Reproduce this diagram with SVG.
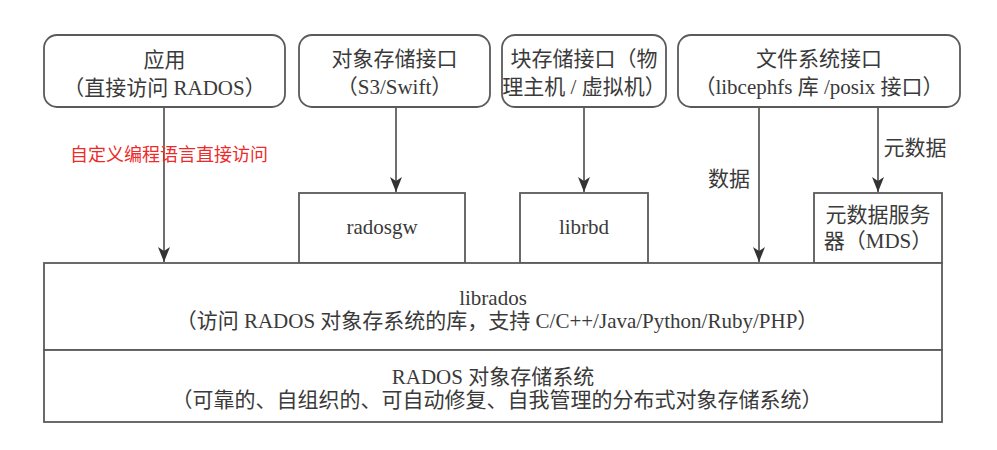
<svg xmlns="http://www.w3.org/2000/svg" width="997" height="450" viewBox="0 0 997 450">
<style>
.t{font-family:"Liberation Serif","Noto Sans CJK SC",serif;font-size:21px;fill:#3a3a3a;text-anchor:middle}
.box{fill:#ffffff;stroke:#5a5a5a;stroke-width:1.8}
.ln{stroke:#4a4a4a;stroke-width:1.6;fill:none}
.red{font-family:"Noto Sans CJK SC","Noto Sans",sans-serif;font-size:18px;fill:#ee2a2a}
</style>
<defs>
<marker id="ah" markerUnits="userSpaceOnUse" markerWidth="15" markerHeight="12" viewBox="0 0 15 12" refX="15" refY="6" orient="auto">
<path d="M0,0 L15,6 L0,12 L4,6 Z" fill="#333"/>
</marker>
</defs>
<rect width="997" height="450" fill="#ffffff"/>

<g id="connectors">
<line class="ln" x1="164" y1="107" x2="164" y2="262" marker-end="url(#ah)"/>
<line class="ln" x1="396" y1="107" x2="396" y2="192" marker-end="url(#ah)"/>
<line class="ln" x1="584" y1="107" x2="584" y2="192" marker-end="url(#ah)"/>
<line class="ln" x1="759" y1="107" x2="759" y2="262" marker-end="url(#ah)"/>
<line class="ln" x1="878" y1="107" x2="878" y2="192" marker-end="url(#ah)"/>
<text class="t" x="729" y="186">数据</text>
<text class="t" x="915" y="155">元数据</text>
<text class="red" x="70" y="161">自定义编程语言直接访问</text>
</g>

<g id="app">
<rect class="box" x="44" y="35" width="241" height="72" rx="13"/>
<text class="t" x="164.5" y="67">应用</text>
<text class="t" x="164.5" y="95">（直接访问 RADOS）</text>
</g>

<g id="objif">
<rect class="box" x="299" y="35" width="191" height="72" rx="13"/>
<text class="t" x="394.5" y="66">对象存储接口</text>
<text class="t" x="394.5" y="94">（S3/Swift）</text>
</g>

<g id="blockif">
<rect class="box" x="502" y="35" width="164" height="72" rx="13"/>
<text class="t" x="584" y="66">块存储接口（物</text>
<text class="t" x="584" y="94">理主机 / 虚拟机）</text>
</g>

<g id="fsif">
<rect class="box" x="678" y="35" width="282" height="72" rx="13"/>
<text class="t" x="819" y="66">文件系统接口</text>
<text class="t" x="819" y="94">（libcephfs 库 /posix 接口）</text>
</g>

<g id="radosgw">
<rect class="box" x="299" y="193" width="166" height="70"/>
<text class="t" x="382" y="234">radosgw</text>
</g>

<g id="librbd">
<rect class="box" x="520" y="193" width="128" height="70"/>
<text class="t" x="584" y="234">librbd</text>
</g>

<g id="mds">
<rect class="box" x="814" y="193" width="128" height="70"/>
<text class="t" x="878" y="222">元数据服务</text>
<text class="t" x="878" y="248">器（MDS）</text>
</g>

<g id="librados">
<rect class="box" x="44" y="263" width="898" height="87"/>
<text class="t" x="493" y="305">librados</text>
<text class="t" x="497" y="328">（访问 RADOS 对象存系统的库，支持 C/C++/Java/Python/Ruby/PHP）</text>
</g>

<g id="rados">
<rect class="box" x="44" y="350" width="898" height="72"/>
<text class="t" x="493" y="384">RADOS 对象存储系统</text>
<text class="t" x="497" y="407">（可靠的、自组织的、可自动修复、自我管理的分布式对象存储系统）</text>
</g>
</svg>
